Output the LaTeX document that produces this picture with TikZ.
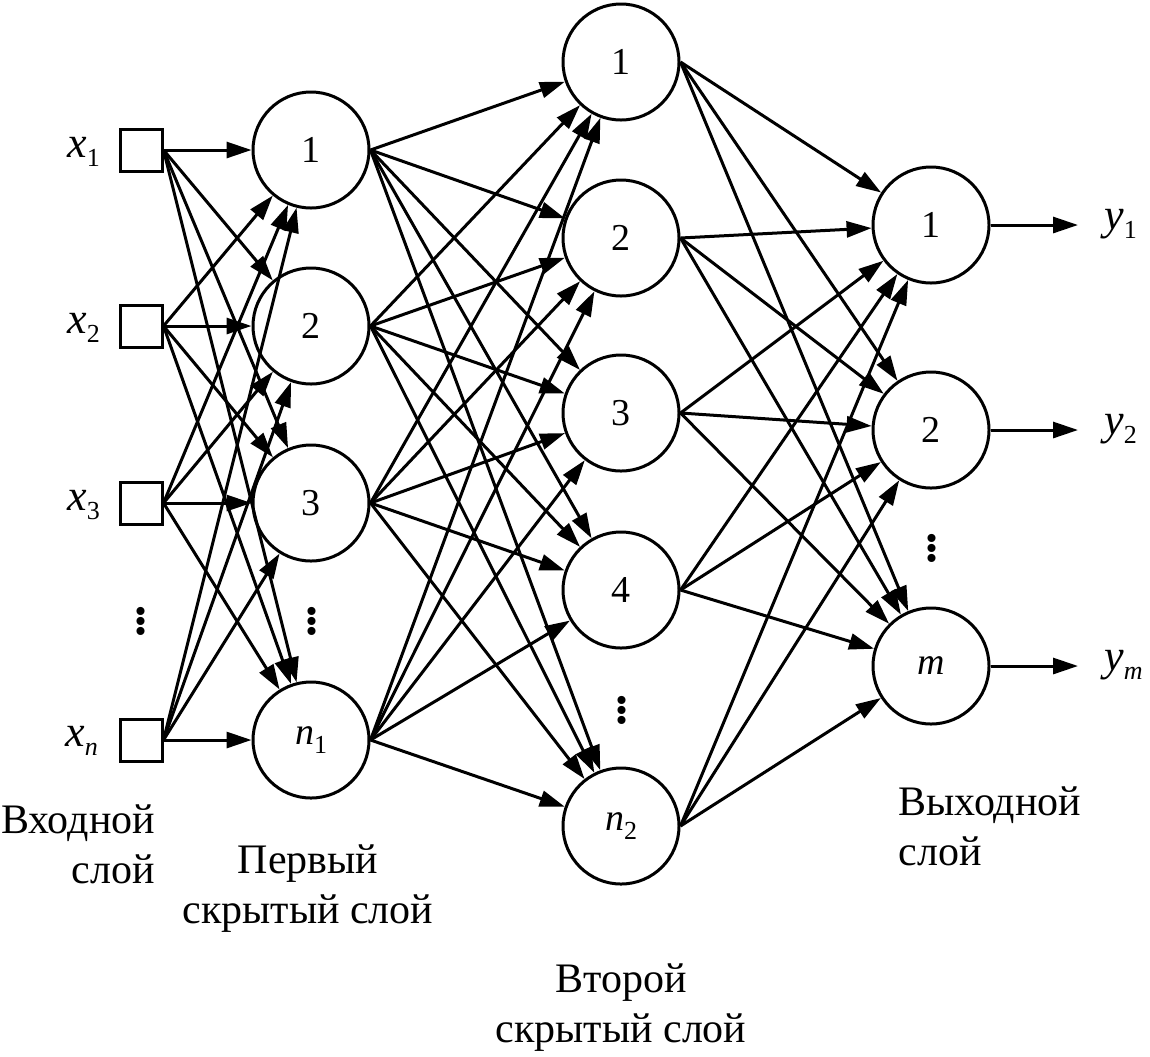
\documentclass[tikz,border=0pt]{standalone}
\usepackage{fontspec}
\setmainfont{Liberation Serif}
\usepackage{tikz}
\usetikzlibrary{arrows.meta}

\newcommand{\sublbl}[2]{\textit{#1}\raisebox{-4.5pt}{\fontsize{13pt}{13pt}\selectfont #2}}
\newcommand{\vdotsnode}{\vbox{\baselineskip=5pt\lineskiplimit=0pt\hbox{.}\hbox{.}\hbox{.}}}

\begin{document}
\begin{tikzpicture}[x=0.5pt,y=-0.5pt,
    every node/.style={font=\fontsize{21pt}{25pt}\selectfont},
    inbox/.style={draw,line width=1.5pt,minimum size=21pt,inner sep=0pt},
    neuron/.style={draw,circle,line width=1.5pt,minimum size=58pt,inner sep=0pt,font=\fontsize{19pt}{19pt}\selectfont},
    link/.style={line width=1.5pt,-{Triangle[length=12.5pt,width=8pt]}},
    caption/.style={inner sep=0pt,anchor=base},
    varlbl/.style={inner sep=0pt,anchor=base west,font=\fontsize{22pt}{22pt}\selectfont},
    dotsnode/.style={inner sep=0pt,font=\fontsize{34pt}{34pt}\selectfont}]
    \useasboundingbox (0,0) rectangle (1150,1056);

    % input layer
    \node[inbox] (x1) at (141,150) {};
    \node[inbox] (x2) at (141,326) {};
    \node[inbox] (x3) at (141,503) {};
    \node[inbox] (xn) at (141,740) {};
    \node[dotsnode] (xd) at (141,621) {\vdotsnode};
    \node[varlbl] (lx1) at (67,157) {\sublbl{x}{1}};
    \node[varlbl] (lx2) at (67,333) {\sublbl{x}{2}};
    \node[varlbl] (lx3) at (67,510) {\sublbl{x}{3}};
    \node[varlbl] (lxn) at (65,746) {\sublbl{x}{\textit{n}}};

    % first hidden layer
    \node[neuron] (a1) at (311,150) {1};
    \node[neuron] (a2) at (311,326) {2};
    \node[neuron] (a3) at (311,503) {3};
    \node[neuron] (an) at (311,740) {\sublbl{n}{1}};
    \node[dotsnode] (ad) at (312,621) {\vdotsnode};

    % second hidden layer
    \node[neuron] (b1) at (621,62) {1};
    \node[neuron] (b2) at (621,238) {2};
    \node[neuron] (b3) at (621,413) {3};
    \node[neuron] (b4) at (621,590) {4};
    \node[neuron] (bn) at (621,826) {\sublbl{n}{2}};
    \node[dotsnode] (bd) at (622,710) {\vdotsnode};

    % output layer
    \node[neuron] (c1) at (931,225) {1};
    \node[neuron] (c2) at (931,430) {2};
    \node[neuron] (cm) at (931,666) {\textit{m}};
    \node[dotsnode] (cd) at (932,548) {\vdotsnode};
    \coordinate (e1) at (1078,225);
    \coordinate (e2) at (1078,430);
    \coordinate (em) at (1078,666);
    \node[varlbl] (ly1) at (1104,229) {\sublbl{y}{1}};
    \node[varlbl] (ly2) at (1104,434) {\sublbl{y}{2}};
    \node[varlbl] (lym) at (1104,670) {\sublbl{y}{\textit{m}}};

    % connections
    \foreach \s in {x1,x2,x3,xn}
        \foreach \t in {a1,a2,a3,an}
            \draw[link] (\s.east) -- (\t);
    \foreach \s in {a1,a2,a3,an}
        \foreach \t in {b1,b2,b3,b4,bn}
            \draw[link] (\s.east) -- (\t);
    \foreach \s in {b1,b2,b3,b4,bn}
        \foreach \t in {c1,c2,cm}
            \draw[link] (\s.east) -- (\t);
    \draw[link] (c1) -- (e1);
    \draw[link] (c2) -- (e2);
    \draw[link] (cm) -- (em);

    % layer captions (base = last line)
    \node[caption,align=right] (capin) at (78,883) {Входной\\слой};
    \node[caption,align=center] (capa) at (308,923) {Первый\\скрытый слой};
    \node[caption,align=center] (capb) at (621,1042) {Второй\\скрытый слой};
    \node[caption,anchor=base west,align=left] (capout) at (898,865) {Выходной\\слой};
\end{tikzpicture}
\end{document}
